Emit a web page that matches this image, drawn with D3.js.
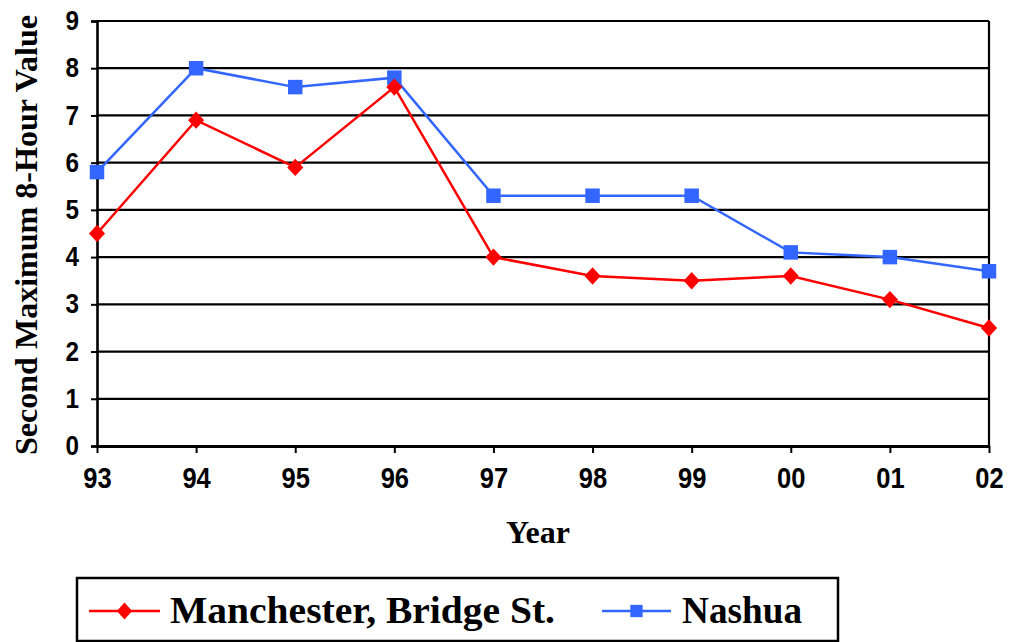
<!DOCTYPE html>
<html>
<head>
<meta charset="utf-8">
<script src="https://cdn.jsdelivr.net/npm/d3@7"></script>
<style>
  html, body { margin: 0; padding: 0; background: #fff; }
  svg { display: block; }
</style>
</head>
<body>
<svg id="chart" width="1009" height="642"></svg>
<script>
// Second maximum 8-hour CO values by year
const years = ["93", "94", "95", "96", "97", "98", "99", "00", "01", "02"];
const manchester = [4.5, 6.9, 5.9, 7.6, 4.0, 3.6, 3.5, 3.6, 3.1, 2.5];
const nashua = [5.8, 8.0, 7.6, 7.8, 5.3, 5.3, 5.3, 4.1, 4.0, 3.7];
const yTicks = [0, 1, 2, 3, 4, 5, 6, 7, 8, 9];
const seriesNames = ["Manchester, Bridge St.", "Nashua"];

const svg = d3.select("#chart");
const plotL = 97, plotR = 989, plotT = 21, plotB = 446;

const x = d3.scalePoint().domain(years).range([plotL, plotR]);
const y = d3.scaleLinear().domain([0, 9]).range([plotB, plotT]);

const sans = "'Liberation Sans', Arial, sans-serif";
const serif = "'Liberation Serif', 'Times New Roman', serif";

// squeeze a text node horizontally, keeping its height
function squeeze(sel, k) {
  sel.each(function () {
    const w = this.getComputedTextLength();
    d3.select(this).attr("textLength", w * k).attr("lengthAdjust", "spacingAndGlyphs");
  });
}

// horizontal grid lines
svg.append("g")
  .selectAll("line")
  .data(yTicks.filter(d => d > 0))
  .join("line")
  .attr("x1", plotL).attr("x2", plotR)
  .attr("y1", d => y(d)).attr("y2", d => y(d))
  .attr("stroke", "#000").attr("stroke-width", 2.2);

// right border of the plot
svg.append("line")
  .attr("x1", plotR).attr("x2", plotR)
  .attr("y1", y(9)).attr("y2", y(0))
  .attr("stroke", "#000").attr("stroke-width", 2.2);

// y axis
const yAxis = svg.append("g")
  .attr("transform", `translate(${plotL},0)`)
  .call(d3.axisLeft(y).tickValues(yTicks).tickSize(6).tickPadding(12).tickFormat(d3.format("d")));
yAxis.select(".domain").attr("stroke", "#000").attr("stroke-width", 2.6);
yAxis.selectAll(".tick line").attr("stroke", "#000").attr("stroke-width", 2);
yAxis.selectAll(".tick text")
  .attr("font-family", sans).attr("font-weight", "bold").attr("font-size", 27).attr("fill", "#000")
  .call(squeeze, 0.9);

// x axis
const xAxis = svg.append("g")
  .attr("transform", `translate(0,${plotB})`)
  .call(d3.axisBottom(x).tickSize(7).tickSizeOuter(0).tickPadding(22));
xAxis.select(".domain").attr("stroke", "#000").attr("stroke-width", 3);
xAxis.selectAll(".tick line").attr("stroke", "#000").attr("stroke-width", 2);
xAxis.selectAll(".tick text")
  .attr("font-family", sans).attr("font-weight", "bold").attr("font-size", 29).attr("fill", "#000")
  .attr("dy", "0.45em")
  .call(squeeze, 0.88);

// axis titles
svg.append("text")
  .attr("x", 538).attr("y", 543)
  .attr("text-anchor", "middle")
  .attr("font-family", serif).attr("font-weight", "bold").attr("font-size", 32)
  .attr("textLength", 64).attr("lengthAdjust", "spacingAndGlyphs")
  .text("Year");

svg.append("text")
  .attr("transform", "translate(37,235) rotate(-90)")
  .attr("text-anchor", "middle")
  .attr("font-family", serif).attr("font-weight", "bold").attr("font-size", 31)
  .attr("textLength", 440).attr("lengthAdjust", "spacingAndGlyphs")
  .text("Second Maximum 8-Hour Value");

// series
const line = d3.line().x((d, i) => x(years[i])).y(d => y(d));
const diamond = d3.symbol().type(d3.symbolSquare).size(130);
const square = d3.symbol().type(d3.symbolSquare).size(210);
const diamondShape = "rotate(45)";

svg.append("path").datum(nashua)
  .attr("d", line).attr("fill", "none")
  .attr("stroke", "#3366FF").attr("stroke-width", 2.5);
svg.append("g").selectAll("path").data(nashua).join("path")
  .attr("transform", (d, i) => `translate(${x(years[i])},${y(d)})`)
  .attr("d", square).attr("fill", "#3366FF");

svg.append("path").datum(manchester)
  .attr("d", line).attr("fill", "none")
  .attr("stroke", "#FF0000").attr("stroke-width", 2.5);
svg.append("g").selectAll("path").data(manchester).join("path")
  .attr("transform", (d, i) => `translate(${x(years[i])},${y(d)}) scale(1,1.08) ${diamondShape}`)
  .attr("d", diamond).attr("fill", "#FF0000");

// legend
const lg = svg.append("g");
lg.append("rect")
  .attr("x", 77).attr("y", 578).attr("width", 761).attr("height", 63)
  .attr("fill", "#fff").attr("stroke", "#000").attr("stroke-width", 2.5);

const legendItems = [
  { name: seriesNames[0], color: "#FF0000", sym: diamond, x0: 89, x1: 160, tx: 170, tw: 385, sc: "scale(0.95,1.05) rotate(45)" },
  { name: seriesNames[1], color: "#3366FF", sym: square, x0: 602, x1: 671, tx: 682, tw: 120, sc: "scale(0.85)" }
];
legendItems.forEach(it => {
  lg.append("line")
    .attr("x1", it.x0).attr("x2", it.x1).attr("y1", 611).attr("y2", 611)
    .attr("stroke", it.color).attr("stroke-width", 2.5);
  lg.append("path")
    .attr("transform", `translate(${(it.x0 + it.x1) / 2},611) ${it.sc}`)
    .attr("d", it.sym).attr("fill", it.color);
  lg.append("text")
    .attr("x", it.tx).attr("y", 623)
    .attr("font-family", serif).attr("font-weight", "bold").attr("font-size", 38)
    .attr("textLength", it.tw).attr("lengthAdjust", "spacingAndGlyphs")
    .text(it.name);
});
</script>
</body>
</html>
